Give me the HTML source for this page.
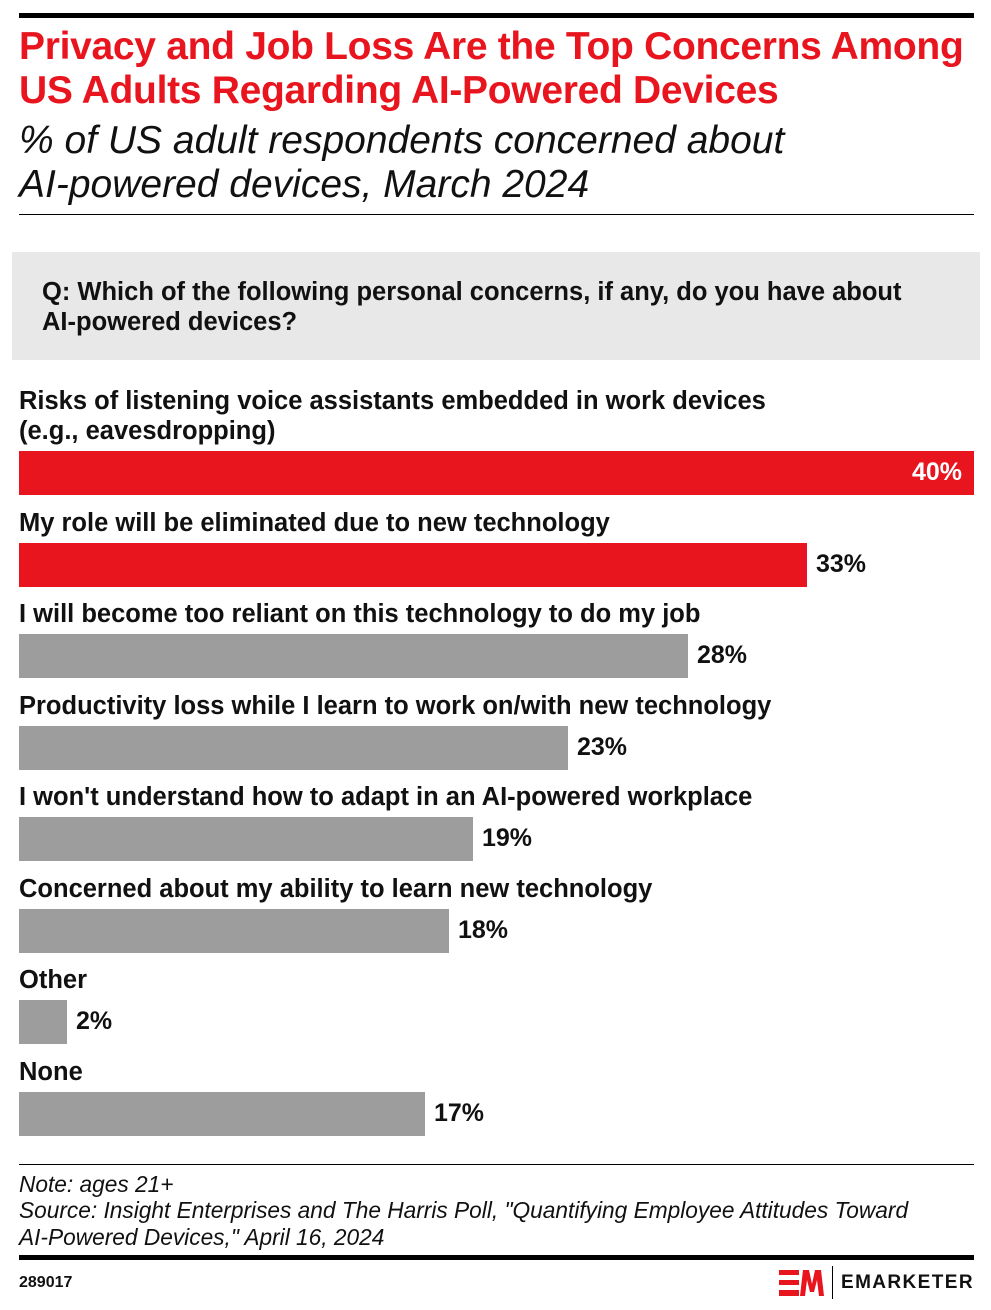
<!DOCTYPE html>
<html><head><meta charset="utf-8"><style>
body{margin:0;width:991px;height:1310px;background:#fff;position:relative;font-family:"Liberation Sans",sans-serif;overflow:hidden}
.a{position:absolute;white-space:nowrap}
.t{color:#e8141e;font-weight:bold;font-size:39px;left:19px;letter-spacing:-0.3px}
.s{font-style:italic;font-size:39px;left:19px;color:#111}
.l{font-weight:bold;font-size:25.5px;left:19px;color:#111}
.bar{position:absolute;left:19px;height:44px;background:#9d9d9d}
.r{background:#e8141e}
.v{font-weight:bold;font-size:25px;color:#111;position:absolute}
.n{font-style:italic;font-size:22.7px;left:19px;color:#111}
</style></head><body>
<div class="a" style="left:19px;top:13px;width:955px;height:5px;background:#000"></div>
<div class="a t" style="top:25px">Privacy and Job Loss Are the Top Concerns Among</div>
<div class="a t" style="top:69px">US Adults Regarding AI-Powered Devices</div>
<div class="a s" style="top:119px">% of US adult respondents concerned about</div>
<div class="a s" style="top:163px">AI-powered devices, March 2024</div>
<div class="a" style="left:19px;top:214px;width:955px;height:1px;background:#000"></div>
<div class="a" style="left:12px;top:252px;width:968px;height:108px;background:#e8e8e8"></div>
<div class="a l" style="left:42px;top:278px">Q: Which of the following personal concerns, if any, do you have about</div>
<div class="a l" style="left:42px;top:308px">AI-powered devices?</div>

<div class="a l" style="top:387px">Risks of listening voice assistants embedded in work devices</div>
<div class="a l" style="top:417px">(e.g., eavesdropping)</div>
<div class="bar r" style="top:451px;width:955px"></div>
<div class="v" style="left:912px;top:458px;color:#fff">40%</div>

<div class="a l" style="top:509px">My role will be eliminated due to new technology</div>
<div class="bar r" style="top:543px;width:788px"></div>
<div class="v" style="left:816px;top:550px">33%</div>

<div class="a l" style="top:600px">I will become too reliant on this technology to do my job</div>
<div class="bar" style="top:634px;width:669px"></div>
<div class="v" style="left:697px;top:641px">28%</div>

<div class="a l" style="top:692px">Productivity loss while I learn to work on/with new technology</div>
<div class="bar" style="top:726px;width:549px"></div>
<div class="v" style="left:577px;top:733px">23%</div>

<div class="a l" style="top:783px">I won't understand how to adapt in an AI-powered workplace</div>
<div class="bar" style="top:817px;width:454px"></div>
<div class="v" style="left:482px;top:824px">19%</div>

<div class="a l" style="top:875px">Concerned about my ability to learn new technology</div>
<div class="bar" style="top:909px;width:430px"></div>
<div class="v" style="left:458px;top:916px">18%</div>

<div class="a l" style="top:966px">Other</div>
<div class="bar" style="top:1000px;width:48px"></div>
<div class="v" style="left:76px;top:1007px">2%</div>

<div class="a l" style="top:1058px">None</div>
<div class="bar" style="top:1092px;width:406px"></div>
<div class="v" style="left:434px;top:1099px">17%</div>

<div class="a" style="left:19px;top:1164px;width:955px;height:1px;background:#000"></div>
<div class="a n" style="top:1171px">Note: ages 21+</div>
<div class="a n" style="top:1197px">Source: Insight Enterprises and The Harris Poll, "Quantifying Employee Attitudes Toward</div>
<div class="a n" style="top:1224px">AI-Powered Devices," April 16, 2024</div>
<div class="a" style="left:19px;top:1255px;width:955px;height:5px;background:#000"></div>
<div class="a" style="left:19px;top:1274px;font-size:16px;font-weight:bold;color:#111">289017</div>
<div class="a" style="left:779px;top:1270px;width:45px;height:26px">
<svg width="45" height="26" viewBox="0 0 45 26"><g fill="#e8141e">
<rect x="0" y="0" width="20" height="5"/><rect x="0" y="10" width="20" height="5"/><rect x="0" y="20" width="20" height="6"/>
<polygon points="21,26 24,0 30,0 33,14 36,0 42,0 45,26 40,26 38,10 35,22 31,22 28,10 26,26"/></g></svg></div>
<div class="a" style="left:832px;top:1266px;width:1px;height:33px;background:#000"></div>
<div class="a" style="left:841px;top:1272px;font-size:19px;font-weight:bold;letter-spacing:1.4px;color:#111">EMARKETER</div>
</body></html>
